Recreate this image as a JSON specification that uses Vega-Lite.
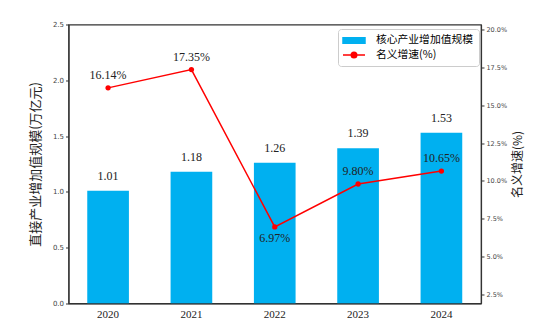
{
  "$schema": "https://vega.github.io/schema/vega-lite/v6.json",
  "autosize": {"type": "none"},
  "padding": {"left": 68.5, "top": 24.5, "right": 70, "bottom": 26},
  "width": 412.5,
  "height": 278.8,
  "data": {"values": [
    {"year": "2020", "value": 1.01, "rate": 0.1614},
    {"year": "2021", "value": 1.18, "rate": 0.1735},
    {"year": "2022", "value": 1.26, "rate": 0.0697},
    {"year": "2023", "value": 1.39, "rate": 0.0980},
    {"year": "2024", "value": 1.53, "rate": 0.1065}
  ]},
  "encoding": {
    "x": {"field": "year", "type": "nominal", "sort": null,
      "scale": {"paddingInner": 0.5, "paddingOuter": 0.225},
      "axis": {"title": null, "labelAngle": 0, "ticks": false, "labelPadding": 5,
        "labelFont": "Liberation Serif", "labelFontSize": 11, "labelColor": "#222",
        "domainColor": "#333", "domainWidth": 1.2}}
  },
  "layer": [
    {
      "encoding": {
        "y": {"field": "value", "type": "quantitative",
          "scale": {"domain": [0, 2.5], "nice": false, "zero": false},
          "axis": {"orient": "left", "values": [0, 0.5, 1, 1.5, 2, 2.5], "format": ".1f", "grid": false,
            "labelFont": "DejaVu Sans", "labelFontSize": 7, "labelColor": "#444",
            "tickSize": 3, "tickColor": "#333", "domainColor": "#333", "domainWidth": 1.2,
            "title": "直接产业增加值规模(万亿元)", "titleFont": "Noto Sans CJK SC", "titleFontSize": 13,
            "titleFontWeight": "normal", "titleColor": "#222", "titlePadding": 10}}
      },
      "layer": [
        {"mark": {"type": "bar"},
         "encoding": {"color": {"datum": "核心产业增加值规模", "type": "nominal",
           "scale": {"domain": ["核心产业增加值规模", "名义增速(%)"], "range": ["#00b0f0", "#ff0000"]},
           "legend": {"orient": "none", "legendX": 269.5, "legendY": 4.5, "title": null,
             "strokeColor": "#cccccc", "fillColor": "white", "cornerRadius": 3, "padding": 5,
             "labelFont": "Noto Sans CJK SC", "labelFontSize": 10.8, "labelColor": "#000",
             "symbolSize": 121, "symbolOffset": 4.5, "labelOffset": 15.5, "rowPadding": 1.5,
             "encode": {"symbols": {"update": {
               "shape": {"signal": "datum.value === '核心产业增加值规模' ? 'M-2,-0.5H2V0.5H-2Z' : 'M-2,0H2M-0.5,0A0.5,0.5 0 1,0 0.5,0A0.5,0.5 0 1,0 -0.5,0Z'"},
               "fill": {"signal": "datum.value === '核心产业增加值规模' ? '#00b0f0' : '#ff0000'"},
               "stroke": {"signal": "datum.value === '核心产业增加值规模' ? 'transparent' : '#ff0000'"},
               "strokeWidth": {"value": 1.5},
               "opacity": {"value": 1}
             }}}}}}},
        {"mark": {"type": "text", "dy": -15, "font": "Liberation Serif", "fontSize": 12, "color": "#222"},
         "encoding": {"text": {"field": "value", "type": "quantitative", "format": ".2f"}}}
      ]
    },
    {
      "encoding": {
        "y": {"field": "rate", "type": "quantitative",
          "scale": {"domain": [0.0193, 0.2032], "nice": false, "zero": false},
          "axis": {"orient": "right", "values": [0.025, 0.05, 0.075, 0.1, 0.125, 0.15, 0.175, 0.2], "format": ".1%", "grid": false,
            "labelFont": "DejaVu Sans", "labelFontSize": 6.5, "labelColor": "#444",
            "tickSize": 3, "tickColor": "#333", "domainColor": "#333", "domainWidth": 1.2,
            "title": "名义增速(%)", "titleFont": "Noto Sans CJK SC", "titleFontSize": 12,
            "titleFontWeight": "normal", "titleColor": "#222", "titleAngle": 270, "titleBaseline": "top", "titlePadding": 6}}
      },
      "layer": [
        {"mark": {"type": "line", "strokeWidth": 1.5},
         "encoding": {"color": {"datum": "名义增速(%)", "type": "nominal"}}},
        {"mark": {"type": "point", "filled": true, "size": 28, "opacity": 1, "color": "#ff0000"}},
        {"transform": [{"filter": "datum.year !== '2022'"}],
         "mark": {"type": "text", "dy": -13, "font": "Liberation Serif", "fontSize": 12, "color": "#222"},
         "encoding": {"text": {"field": "rate", "type": "quantitative", "format": ".2%"}}},
        {"transform": [{"filter": "datum.year === '2022'"}],
         "mark": {"type": "text", "dy": 11, "font": "Liberation Serif", "fontSize": 12, "color": "#222"},
         "encoding": {"text": {"field": "rate", "type": "quantitative", "format": ".2%"}}}
      ]
    }
  ],
  "resolve": {"scale": {"y": "independent"}},
  "config": {"view": {"stroke": "#333", "strokeWidth": 1.2}, "background": "white"}
}
